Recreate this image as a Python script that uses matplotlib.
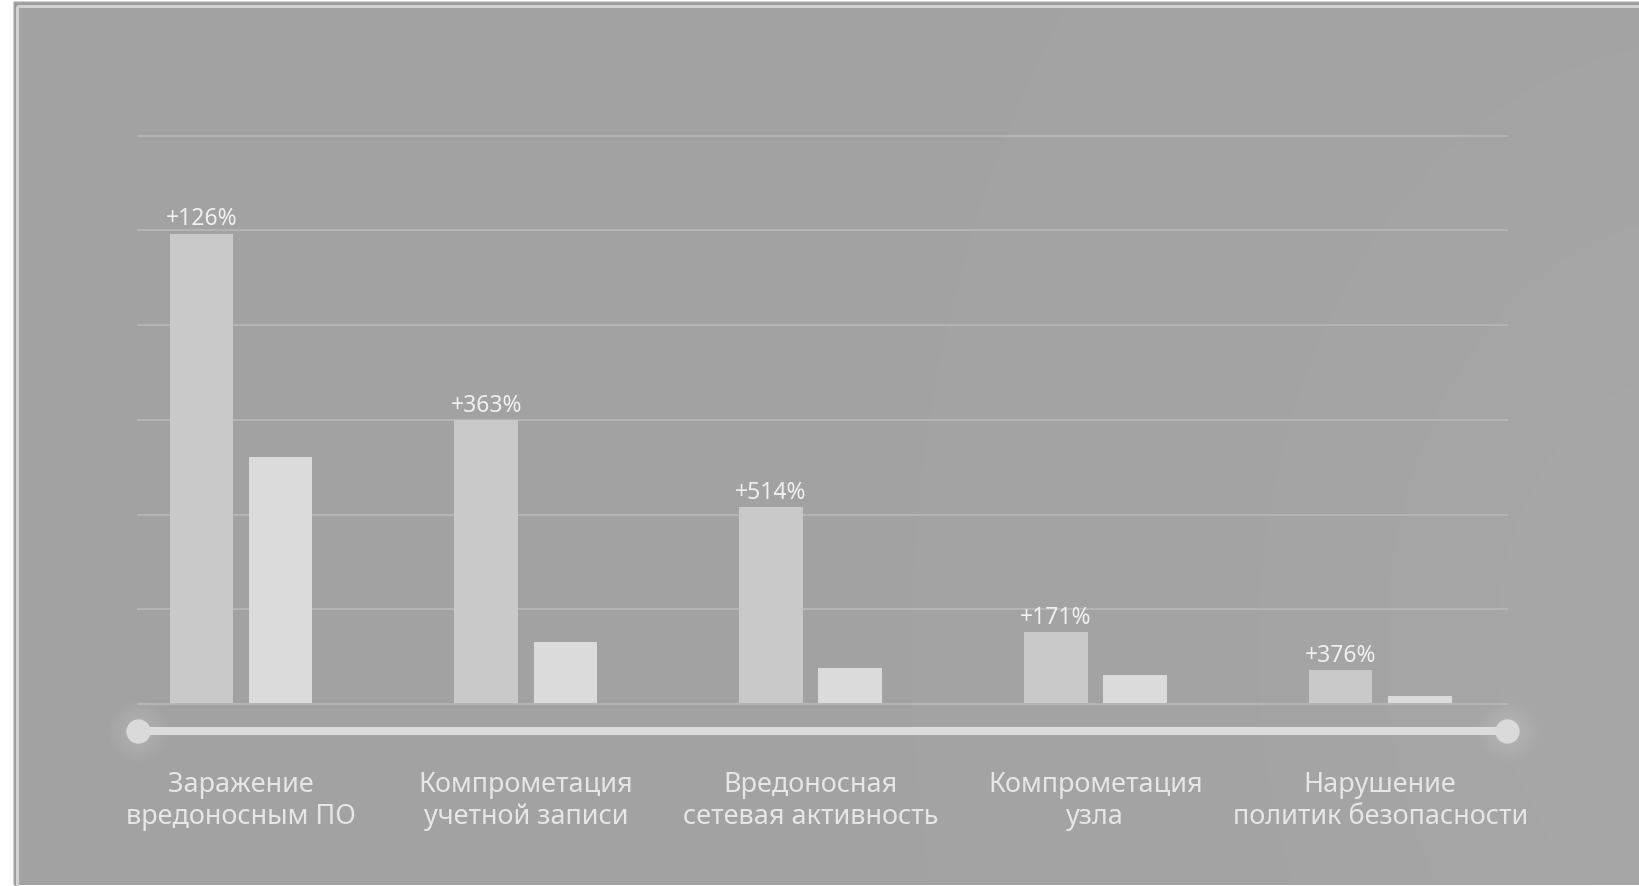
import numpy as np
import matplotlib
matplotlib.use("Agg")
import matplotlib.pyplot as plt
from matplotlib.patches import Rectangle

plt.rcParams['font.family'] = ['Noto Sans', 'DejaVu Sans']

# данные (шкала без подписей, шаг сетки = 100)
categories = ["Заражение\nвредоносным ПО",
              "Компрометация\nучетной записи",
              "Вредоносная\nсетевая активность",
              "Компрометация\nузла",
              "Нарушение\nполитик безопасности"]
current = [495, 298, 206, 74, 34]
previous = [259, 64, 37, 29, 7]
growth = ["+126%", "+363%", "+514%", "+171%", "+376%"]
grid_levels = [0, 100, 200, 300, 400, 500, 600]

W, H = 1639, 887
fig = plt.figure(figsize=(W / 100, H / 100), dpi=100)
fig.patch.set_facecolor('white')

# фон панели с лёгким осветлением справа
bg = fig.add_axes([0, 0, 1, 1], zorder=-10)
bg.set_axis_off()
yy, xx = np.mgrid[0:H, 0:W]
glow = np.exp(-(((xx - 1700) / 380.0) ** 2 + ((yy - 650) / 520.0) ** 2))
img = 0.639 + 0.016 * glow
img[:, :14] = 1.0
img[:4, :] = 1.0
rgb = np.dstack([img, img, img])
bg.imshow(rgb, aspect='auto', interpolation='bilinear')
bg.set_xlim(0, W)
bg.set_ylim(H, 0)
bg.add_patch(Rectangle((14.5, 4.5), W, H, fill=False, edgecolor='#9a9a9a', lw=1.0))
bg.add_patch(Rectangle((17, 7), W, H, fill=False, edgecolor='#d2d2d2', lw=2.2))

ax = fig.add_axes([137.7 / W, (H - 705) / H, 1369.0 / W, 568.3 / H])
ax.set_facecolor('none')
for s in ax.spines.values():
    s.set_visible(False)
ax.set_xticks([])
ax.set_yticks([])

x = np.arange(len(categories))
ax.set_xlim(-0.3627, 4.4442)
ax.set_ylim(0, 600)

for g in grid_levels:
    ax.axhline(g, color='#b4b4b4', lw=1.5, zorder=1, clip_on=False)

bw = 0.2233
off = (bw + 0.0545) / 2
ax.bar(x - off, current, width=bw, color='#c9c9c9', zorder=2, bottom=1.5)
ax.bar(x + off, previous, width=bw, color='#dbdbdb', zorder=2, bottom=1.5)

for xi, v, t in zip(x, current, growth):
    ax.annotate(t, (xi - off, v), xytext=(0, 8), textcoords='offset points',
                ha='center', va='baseline', fontsize=16.5, color='#f0f0f0')

# ось-слайдер с точками на концах
ly = -26.5 / 568.3
xt = ax.get_xaxis_transform()
xl = ax.get_xlim()
ax.plot(xl, [ly, ly], color='#dcdcdc', lw=5.8, transform=xt, clip_on=False,
        solid_capstyle='butt', zorder=3)
for d in np.linspace(44, 20, 10):
    ax.scatter(xl, [ly, ly], s=d ** 2, color='white', alpha=0.018,
               transform=xt, clip_on=False, zorder=2, linewidths=0)
ax.scatter(xl, [ly, ly], s=17.5 ** 2, color='#dadada', transform=xt, clip_on=False,
           zorder=4, linewidths=0)

for xi, c in zip(x, categories):
    ax.text(xi, -(824 - 705) / 568.3, c, transform=xt, ha='center', va='baseline',
            fontsize=19.5, color='#e6e6e6', linespacing=1.17, multialignment='center')

fig.savefig('out.png', dpi=100)
